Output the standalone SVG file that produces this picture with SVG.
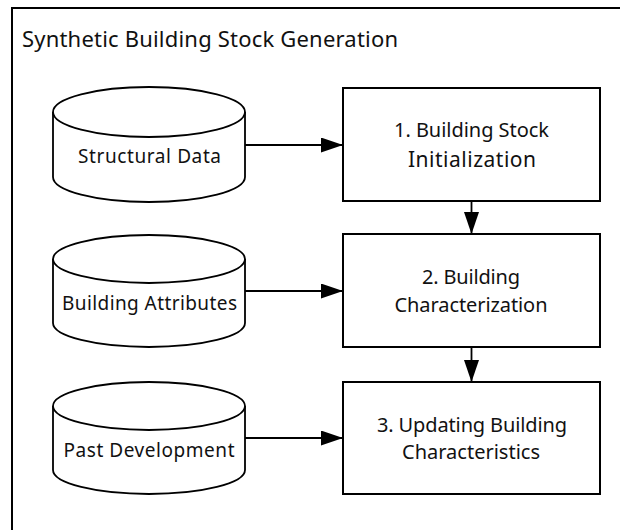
<svg xmlns="http://www.w3.org/2000/svg" width="620" height="530" viewBox="0 0 620 530">
<defs>
<style>
.frame{fill:#fff;stroke:#000;stroke-width:2}
.box{fill:#fff;stroke:#000;stroke-width:2}
.cyl{fill:#fff;stroke:#000;stroke-width:1.8}
.conn{stroke:#000;stroke-width:1.8;fill:none}
text{font-family:"Noto Sans","Open Sans",sans-serif;fill:#111;text-anchor:middle}
.title{font-size:22px;text-anchor:start}
.lbl{font-size:19px}
.blbl{font-size:20px}
</style>
<marker id="arr" viewBox="0 0 22 15" refX="22" refY="7.5" markerWidth="22" markerHeight="15" markerUnits="userSpaceOnUse" orient="auto">
<path d="M0,0 L22,7.5 L0,15 Z" fill="#000"/>
</marker>
</defs>
<rect width="620" height="530" fill="#fff"/>
<rect class="frame" x="12" y="8" width="640" height="560"/>
<text class="title" x="22" y="47" textLength="376">Synthetic Building Stock Generation</text>

<g id="structural-data">
<path class="cyl" d="M53,112 L53,177 A96,25 0 0 0 245,177 L245,112 A96,25 0 0 0 53,112 Z"/>
<path class="cyl" d="M53,112 A96,25 0 0 0 245,112"/>
<text class="lbl" x="149.5" y="163" textLength="143">Structural Data</text>
</g>

<g id="building-attributes">
<path class="cyl" d="M53,259 L53,323 A96,24 0 0 0 245,323 L245,259 A96,24 0 0 0 53,259 Z"/>
<path class="cyl" d="M53,259 A96,24 0 0 0 245,259"/>
<text class="lbl" x="149.5" y="310" textLength="175">Building Attributes</text>
</g>

<g id="past-development">
<path class="cyl" d="M53,406 L53,470 A96,24 0 0 0 245,470 L245,406 A96,24 0 0 0 53,406 Z"/>
<path class="cyl" d="M53,406 A96,24 0 0 0 245,406"/>
<text class="lbl" x="149" y="457" textLength="171">Past Development</text>
</g>

<g id="step1">
<rect class="box" x="343" y="88" width="257" height="113"/>
<text class="blbl" x="471.5" y="137" textLength="155">1. Building Stock</text>
<text x="472" y="167" style="font-size:21px" textLength="128">Initialization</text>
</g>

<g id="step2">
<rect class="box" x="343" y="234" width="257" height="113"/>
<text class="blbl" x="471" y="284" textLength="98">2. Building</text>
<text class="blbl" x="471" y="312" textLength="153">Characterization</text>
</g>

<g id="step3">
<rect class="box" x="343" y="382" width="257" height="112"/>
<text class="blbl" x="472" y="432" textLength="190">3. Updating Building</text>
<text class="blbl" x="471" y="459" textLength="138">Characteristics</text>
</g>

<g id="connectors">
<line class="conn" x1="245" y1="145" x2="343" y2="145" marker-end="url(#arr)"/>
<line class="conn" x1="245" y1="291" x2="343" y2="291" marker-end="url(#arr)"/>
<line class="conn" x1="245" y1="438" x2="343" y2="438" marker-end="url(#arr)"/>
<line class="conn" x1="471.5" y1="201" x2="471.5" y2="234" marker-end="url(#arr)"/>
<line class="conn" x1="471.5" y1="347" x2="471.5" y2="382" marker-end="url(#arr)"/>
</g>
</svg>
